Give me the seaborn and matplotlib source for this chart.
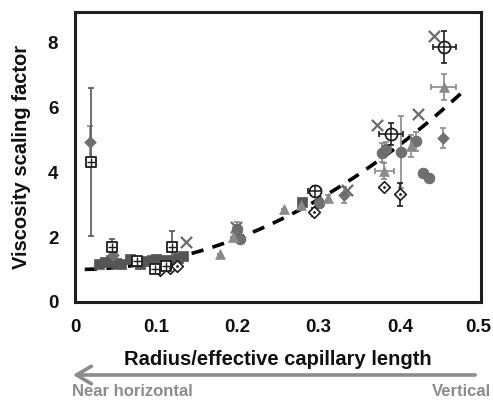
import numpy as np
import pandas as pd
import matplotlib
matplotlib.use("Agg")
import matplotlib.pyplot as plt
import matplotlib.transforms as mtransforms
import seaborn as sns

# ---- data: radius / effective capillary length vs viscosity scaling factor ----
# open squares (with error bars)
sq_x = [0.020, 0.046, 0.119, 0.076, 0.112, 0.099]
sq_y = [4.31, 1.69, 1.69, 1.26, 1.10, 1.02]
sq_yerr = [2.27, 0.25, 0.50, 0.08, 0.08, 0.08]

# grey filled diamonds
gd_x = [0.018, 0.453, 0.047, 0.331]
gd_y = [4.92, 5.05, 1.45, 3.30]
gd_yerr = [0.50, 0.30, 0.10, 0.25]

# crossed circles
cc_x = [0.455, 0.389, 0.295]
cc_y = [7.85, 5.17, 3.41]
cc_xerr = [0.014, 0.015, 0.008]
cc_yerr = [0.50, 0.35, 0.15]

# crosses
x_x = [0.442, 0.372, 0.423, 0.137, 0.198, 0.335]
x_y = [8.18, 5.45, 5.78, 1.85, 2.30, 3.45]

# grey triangles
tr_x = [0.179, 0.257, 0.312, 0.414, 0.381, 0.454, 0.195, 0.278]
tr_y = [1.48, 2.86, 3.20, 4.80, 4.03, 6.62, 2.00, 3.00]
tr_xerr = [0.0, 0.0, 0.0, 0.0, 0.012, 0.015, 0.0, 0.0]
tr_yerr = [0.0, 0.0, 0.10, 0.35, 0.25, 0.40, 0.0, 0.15]

# grey filled circles
gc_x = [0.378, 0.401, 0.420, 0.428, 0.436, 0.383, 0.200, 0.203, 0.300]
gc_y = [4.60, 4.62, 4.95, 3.97, 3.82, 4.72, 2.25, 1.95, 3.05]
gc_yerr = [0.30, 1.10, 0.30, 0.0, 0.0, 0.20, 0.20, 0.0, 0.15]

# open diamonds
od_x = [0.381, 0.400, 0.294, 0.105, 0.117, 0.126]
od_y = [3.54, 3.32, 2.77, 1.00, 1.05, 1.10]
od_yerr = [0.0, 0.35, 0.12, 0.0, 0.0, 0.0]

# dark filled squares
ds_x = [0.030, 0.037, 0.044, 0.051, 0.057, 0.068, 0.080, 0.088, 0.095,
        0.100, 0.107, 0.112, 0.119, 0.127, 0.133, 0.279]
ds_y = [1.16, 1.24, 1.28, 1.20, 1.16, 1.32, 1.18, 1.27, 1.30,
        1.33, 1.22, 1.30, 1.26, 1.36, 1.42, 3.08]

# quadratic trend line coefficients (highest power first)
fit_coeffs = [24.0, 0.0, 1.0]
fit_range = (0.012, 0.48)

# ---- figure ----
sns.set_theme(style="white")
plt.rcParams["font.family"] = ["Liberation Sans", "DejaVu Sans"]
plt.rcParams["font.weight"] = "bold"

fig = plt.figure(figsize=(4.93, 4.01), dpi=100)
ax = fig.add_axes([75 / 493, 1 - 302 / 401, 406 / 493, 290 / 401])

BLACK = "#1e1e1e"
GREY = "#8a8a8a"
MID = "#707070"
DARK = "#555555"


def bars(x, y, xerr=None, yerr=None, color=BLACK, z=2):
    ax.errorbar(x, y, xerr=xerr, yerr=yerr, fmt="none", ecolor=color,
                elinewidth=1.2, capsize=2, capthick=1.2, zorder=z)


# trend line
fx = np.linspace(*fit_range, 200)
fy = np.polyval(fit_coeffs, fx)
sns.lineplot(x=fx, y=fy, ax=ax, color="black", lw=2.6, zorder=1,
             linestyle=(0, (3.4, 2.6)))

# dark squares
sns.scatterplot(x=ds_x, y=ds_y, ax=ax, marker="s", s=45, color=DARK,
                edgecolor=DARK, linewidth=0.5, zorder=3)

# grey circles
bars(gc_x, gc_y, yerr=gc_yerr, color=GREY)
sns.scatterplot(x=gc_x, y=gc_y, ax=ax, marker="o", s=60, color=MID,
                edgecolor="#606060", linewidth=0.5, zorder=3)

# grey triangles
bars(tr_x, tr_y, xerr=tr_xerr, yerr=tr_yerr, color=GREY)
sns.scatterplot(x=tr_x, y=tr_y, ax=ax, marker="^", s=50, color=GREY,
                edgecolor=GREY, linewidth=0.5, zorder=3)

# grey diamonds
bars(gd_x, gd_y, yerr=gd_yerr, color=GREY)
sns.scatterplot(x=gd_x, y=gd_y, ax=ax, marker="D", s=35, color=MID,
                edgecolor=MID, linewidth=0.5, zorder=4)

# open diamonds
bars(od_x, od_y, yerr=od_yerr, color=BLACK)
sns.scatterplot(x=od_x, y=od_y, ax=ax, marker="D", s=35, color="white",
                edgecolor=BLACK, linewidth=1.2, zorder=5)
sns.scatterplot(x=od_x, y=od_y, ax=ax, marker="o", s=4, color=BLACK,
                edgecolor=BLACK, linewidth=0, zorder=6)

# open squares
bars(sq_x, sq_y, yerr=sq_yerr, color="#555555", z=2)
sns.scatterplot(x=sq_x, y=sq_y, ax=ax, marker="s", s=60, color="white",
                edgecolor=BLACK, linewidth=1.3, zorder=5)
sns.scatterplot(x=sq_x, y=sq_y, ax=ax, marker="+", s=35, color=BLACK,
                linewidth=1.0, zorder=6)

# crossed circles
bars(cc_x, cc_y, xerr=cc_xerr, yerr=cc_yerr, color=BLACK, z=5)
sns.scatterplot(x=cc_x, y=cc_y, ax=ax, marker="o", s=75, color="white",
                edgecolor=BLACK, linewidth=1.3, zorder=6)
sns.scatterplot(x=cc_x, y=cc_y, ax=ax, marker="+", s=75, color=BLACK,
                linewidth=1.1, zorder=7)

# crosses
sns.scatterplot(x=x_x, y=x_y, ax=ax, marker="x", s=65, color="#6a6a6a",
                linewidth=1.6, zorder=6)

ax.set_xlim(0, 0.5)
ax.set_ylim(0, 8.93)
ax.set_xticks([0, 0.1, 0.2, 0.3, 0.4, 0.5])
ax.set_xticklabels(["0", "0.1", "0.2", "0.3", "0.4", "0.5"])
ax.set_yticks([0, 2, 4, 6, 8])
ax.tick_params(direction="in", length=5, width=2, colors=BLACK,
               labelsize=13.5, pad=12)
for lab in ax.get_xticklabels() + ax.get_yticklabels():
    lab.set_fontweight("bold")
    lab.set_color("#111111")
# keep the last x tick label inside the canvas
last = ax.get_xticklabels()[-1]
last.set_transform(last.get_transform() +
                   mtransforms.ScaledTranslation(-3 / 100, 0, fig.dpi_scale_trans))
for sp in ax.spines.values():
    sp.set_linewidth(2.2)
    sp.set_color(BLACK)

ax.set_xlabel("Radius/effective capillary length", fontsize=14.5,
              fontweight="bold", color="#111111", labelpad=10)
ax.set_ylabel("Viscosity scaling factor", fontsize=14.5,
              fontweight="bold", color="#111111", labelpad=12)

# direction arrow and labels below the axis
ay = 1 - 375 / 401
fig.add_artist(matplotlib.patches.FancyArrowPatch(
    (478 / 493, ay), (70 / 493, ay), transform=fig.transFigure,
    arrowstyle="->,head_length=6,head_width=3.5", color="#8c8c8c",
    lw=2.6, mutation_scale=1.8))
fig.text(72 / 493, 1 - 392 / 401, "Near horizontal", ha="left", va="center",
         fontsize=12, fontweight="bold", color="#8c8c8c")
fig.text(491 / 493, 1 - 392 / 401, "Vertical", ha="right", va="center",
         fontsize=12, fontweight="bold", color="#8c8c8c")

fig.savefig("out.png", dpi=100)
